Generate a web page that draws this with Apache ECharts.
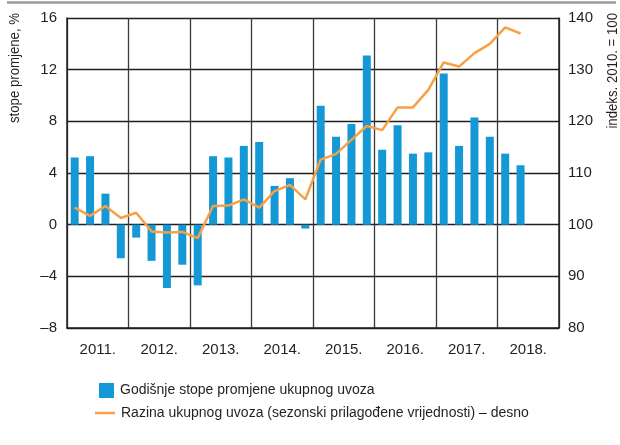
<!DOCTYPE html>
<html>
<head>
<meta charset="utf-8">
<script src="https://cdn.jsdelivr.net/npm/echarts@6/dist/echarts.min.js"></script>
<style>
  html, body { margin: 0; padding: 0; background: #fff; }
  #graph { width: 620px; height: 445px; }
</style>
</head>
<body>
<div id="graph"></div>
<script>
// quarters 2011 Q1 - 2018 Q4 (last two empty)
const years = ['2011.', '2012.', '2013.', '2014.', '2015.', '2016.', '2017.', '2018.'];
const quarters = [];
years.forEach(y => { for (let q = 1; q <= 4; q++) quarters.push(y + 'Q' + q); });

// annual rate of change of total imports, %
const rateOfChange = [5.2, 5.3, 2.4, -2.6, -1.0, -2.8, -4.9, -3.1,
  -4.7, 5.3, 5.2, 6.1, 6.4, 3.0, 3.6, -0.3,
  9.2, 6.8, 7.8, 13.1, 5.8, 7.7, 5.5, 5.6,
  11.7, 6.1, 8.3, 6.8, 5.5, 4.6];

// level of total imports, seasonally adjusted, index 2010 = 100
const importLevel = [103.3, 101.7, 103.6, 101.3, 102.3, 98.7, 98.5, 98.6,
  97.4, 103.6, 103.7, 104.9, 103.3, 106.5, 107.7, 104.9,
  112.6, 113.7, 116.4, 119.1, 118.3, 122.7, 122.7, 126.1,
  131.4, 130.6, 133.2, 135.0, 138.2, 137.0];

const leftTicks = { min: -8, max: 16, interval: 4 };
const rightTicks = { min: 80, max: 140, interval: 10 };

const barName = 'Godišnje stope promjene ukupnog uvoza';
const lineName = 'Razina ukupnog uvoza (sezonski prilagođene vrijednosti) – desno';

const font = "'Liberation Sans', Arial, sans-serif";
const txt = '#231f20';

let myChart = echarts.init(document.getElementById('graph'));

let option = {
  animation: false,
  textStyle: { fontFamily: font },
  grid: { left: 67, right: 61, top: 18, bottom: 117 },
  legend: [
    {
      data: [barName],
      orient: 'vertical',
      left: 99, top: 383,
      icon: 'rect', itemWidth: 15, itemHeight: 15,
      textStyle: { fontFamily: font, fontSize: 14, color: txt, padding: [0, 0, 0, 1] },
      padding: 0
    },
    {
      data: [lineName],
      orient: 'vertical',
      left: 95, top: 406,
      icon: 'rect', itemWidth: 20, itemHeight: 2.5,
      textStyle: { fontFamily: font, fontSize: 14, color: txt, padding: [0, 0, 0, 1] },
      padding: 0
    }
  ],
  xAxis: [
    {
      type: 'category',
      data: quarters,
      show: false
    },
    {
      type: 'category',
      data: years,
      position: 'bottom',
      axisLine: { show: true, lineStyle: { color: '#231f20', width: 1.5 } },
      axisTick: { show: false },
      axisLabel: { color: txt, fontSize: 15, fontFamily: font, margin: 14 },
      splitLine: { show: true, lineStyle: { color: '#3a3a3a', width: 1.3 } }
    }
  ],
  yAxis: [
    {
      type: 'value',
      min: leftTicks.min, max: leftTicks.max, interval: leftTicks.interval,
      axisLine: { show: true, lineStyle: { color: '#231f20', width: 1.5 } },
      axisTick: { show: false },
      axisLabel: {
        color: txt, fontSize: 15, fontFamily: font, margin: 10,
        formatter: v => (v < 0 ? '–' + Math.abs(v) : String(v))
      },
      splitLine: { show: true, lineStyle: { color: '#231f20', width: 1.3 } }
    },
    {
      type: 'value',
      min: rightTicks.min, max: rightTicks.max, interval: rightTicks.interval,
      axisLine: { show: true, lineStyle: { color: '#231f20', width: 1.5 } },
      axisTick: { show: false },
      axisLabel: { color: txt, fontSize: 15, fontFamily: font, margin: 9 },
      splitLine: { show: false }
    }
  ],
  series: [
    {
      name: barName,
      type: 'bar',
      xAxisIndex: 0,
      yAxisIndex: 0,
      barWidth: 8,
      itemStyle: { color: '#1498d6' },
      data: rateOfChange
    },
    {
      name: lineName,
      type: 'line',
      xAxisIndex: 0,
      yAxisIndex: 1,
      symbol: 'none',
      lineStyle: { color: '#f7a144', width: 2.5 },
      itemStyle: { color: '#f7a144' },
      data: importLevel
    }
  ],
  graphic: [
    // grey rule along the top
    { type: 'line', shape: { x1: 7, y1: 2.5, x2: 616, y2: 2.5 }, style: { stroke: '#9a9a9a', lineWidth: 2.5 } },
    {
      type: 'text', x: 15, y: 13, rotation: Math.PI / 2, scaleX: 0.88,
      style: { text: 'stope promjene, %', font: '15px ' + font, fill: txt, align: 'right', verticalAlign: 'middle' }
    },
    {
      type: 'text', x: 613, y: 13, rotation: Math.PI / 2, scaleX: 0.88,
      style: { text: 'indeks. 2010. = 100', font: '15px ' + font, fill: txt, align: 'right', verticalAlign: 'middle' }
    }
  ]
};

myChart.setOption(option);
</script>
</body>
</html>
